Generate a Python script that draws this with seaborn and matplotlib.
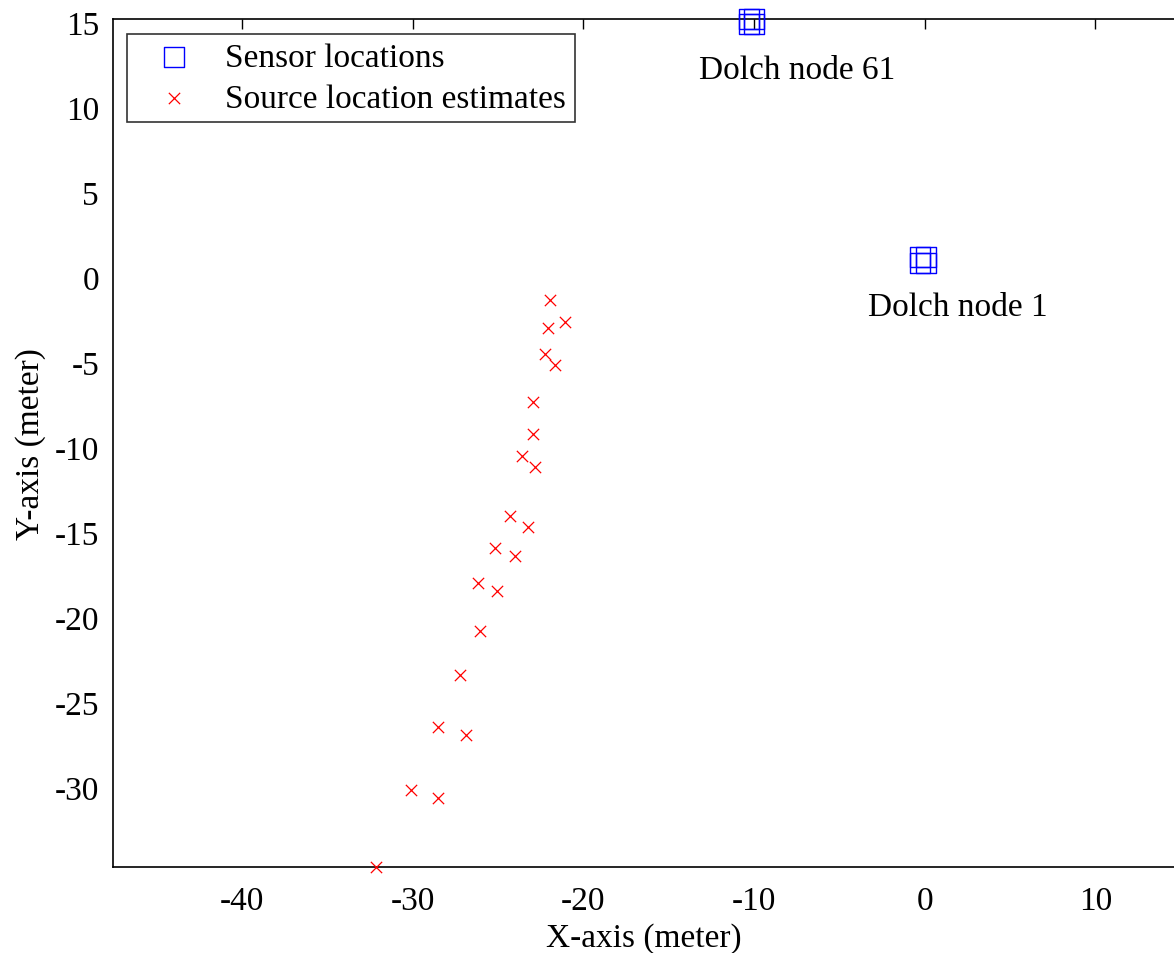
import matplotlib
matplotlib.use("Agg")
import matplotlib.pyplot as plt
import seaborn as sns
import pandas as pd

# Microphone positions of the two Dolch sensor nodes (meters)
sensor_x = [-10.31, -10.02, -10.31, -10.02, -0.27, 0.05, -0.27, 0.05]
sensor_y = [15.18, 15.18, 14.88, 14.88, 1.18, 1.18, 0.82, 0.82]

# Estimated acoustic source positions (meters)
source_x = [-21.97, -21.07, -22.08, -22.26, -21.63, -22.96, -22.96, -23.57,
            -22.83, -24.29, -23.24, -25.19, -24.00, -26.18, -25.07, -26.05,
            -27.20, -28.51, -26.90, -30.10, -28.51, -32.14]
source_y = [-1.37, -2.66, -2.98, -4.55, -5.18, -7.37, -9.25, -10.55,
            -11.16, -14.08, -14.69, -15.94, -16.43, -18.00, -18.47, -20.81,
            -23.43, -26.49, -26.94, -30.16, -30.65, -34.69]

node_labels = ["Dolch node 61", "Dolch node 1"]
node_label_x = [-13.2, -3.35]
node_label_y = [12.2, -1.75]

x_ticks = [-40, -30, -20, -10, 0, 10]
y_ticks = [15, 10, 5, 0, -5, -10, -15, -20, -25, -30]

sensors = pd.DataFrame({"x": sensor_x, "y": sensor_y})
sources = pd.DataFrame({"x": source_x, "y": source_y})

sns.set_theme(style="white")
plt.rcParams["font.family"] = ["Liberation Serif", "DejaVu Serif"]
FS = 24
plt.rcParams.update({
    "font.size": FS,
    "text.color": "black",
    "axes.labelcolor": "black",
    "xtick.color": "black",
    "ytick.color": "black",
})

fig = plt.figure(figsize=(11.74, 9.54), dpi=100)
ax = fig.add_axes([113 / 1174, 1 - 868 / 954, 1 - 113 / 1174, (868 - 20) / 954])

sns.scatterplot(data=sensors, x="x", y="y", ax=ax, marker="s", s=207,
                facecolors="none", edgecolors="blue", linewidth=1.0,
                label="Sensor locations", clip_on=False, zorder=3)
sns.scatterplot(data=sources, x="x", y="y", ax=ax, marker="x", s=66,
                color="red", linewidth=0.9,
                label="Source location estimates", clip_on=False, zorder=3)

for txt, tx, ty in zip(node_labels, node_label_x, node_label_y):
    ax.text(tx, ty, txt, ha="left", va="center", fontsize=FS, color="black")

ax.set_xlim(-47.55, 14.6)
ax.set_ylim(-34.7, 15.18)
ax.set_xticks(x_ticks)
ax.set_yticks(y_ticks)
ax.set_xticklabels([str(v) for v in x_ticks])
ax.set_yticklabels([str(v) for v in y_ticks])
ax.tick_params(direction="in", length=7, width=1, colors="black",
               labelsize=FS, top=True, right=False)
ax.tick_params(axis="x", pad=13)
ax.tick_params(axis="y", pad=10)

for side, sp in ax.spines.items():
    sp.set_color("black")
    sp.set_linewidth(1.2)
ax.spines["right"].set_visible(False)

ax.set_xlabel("X-axis (meter)", fontsize=FS, labelpad=5, color="black")
ax.set_ylabel("Y-axis (meter)", fontsize=FS, labelpad=6, color="black")

leg = ax.legend(loc="upper left", bbox_to_anchor=(14 / 1061, 1 - 15 / 848),
                frameon=True, fancybox=False, fontsize=FS, borderpad=0.25,
                labelspacing=0.32, handlelength=2.3, handletextpad=0.4,
                borderaxespad=0)
leg.get_frame().set_edgecolor("black")
leg.get_frame().set_linewidth(1.2)
for t in leg.get_texts():
    t.set_color("black")

fig.savefig("out.png", dpi=100)
